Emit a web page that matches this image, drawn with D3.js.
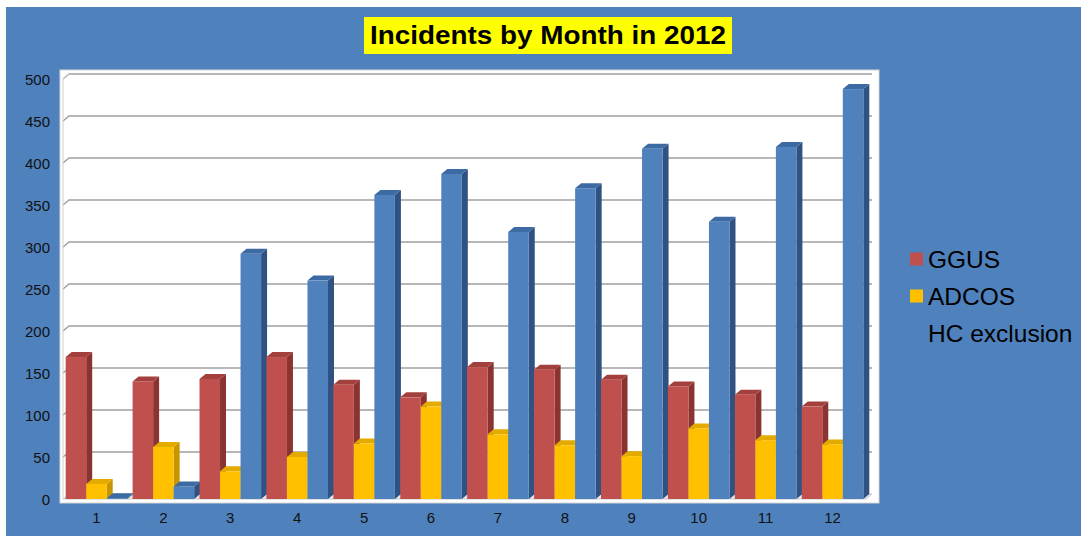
<!DOCTYPE html>
<html lang="en">
<head>
<meta charset="UTF-8">
<title>Incidents by Month in 2012</title>
<script src="https://d3js.org/d3.v7.min.js"></script>
<style>
    body { margin: 0; background: #fff; font-family: "Liberation Sans", Arial, sans-serif; }
    svg { display: block; }
</style>
</head>
<body>
<svg id="chart" width="1081" height="536"></svg>
<script>
    // data
    const months = ["1", "2", "3", "4", "5", "6", "7", "8", "9", "10", "11", "12"];
    const series = ["GGUS", "ADCOS", "HC exclusion"];
    const ggus = [169, 140, 143, 169, 136, 121, 157, 154, 142, 134, 124, 110];
    const adcos = [18, 62, 33, 50, 66, 110, 77, 64, 51, 84, 70, 65];
    const hcExclusion = [1, 15, 292, 260, 362, 387, 318, 370, 417, 330, 419, 488];
    const yTicks = [0, 50, 100, 150, 200, 250, 300, 350, 400, 450, 500];

    const values = { "GGUS": ggus, "ADCOS": adcos, "HC exclusion": hcExclusion };
    const colors = {
        "GGUS": { front: "#C0504D", side: "#8A3331", top: "#A3403D" },
        "ADCOS": { front: "#FFC000", side: "#C79500", top: "#E3AA00" },
        "HC exclusion": { front: "#4F81BD", side: "#2F5283", top: "#3C6AA3" }
    };

    const svg = d3.select('#chart');
    const dx = 6, dy = -5; // 3d depth offset

    // blue background
    svg.append('rect').attr('x', 6).attr('y', 7).attr('width', 1075).attr('height', 529)
        .attr('fill', '#4F81BD');

    // title
    svg.append('rect').attr('x', 364).attr('y', 17).attr('width', 368).attr('height', 37)
        .attr('fill', '#FFFF00');
    svg.append('text').attr('x', 548).attr('y', 44).attr('text-anchor', 'middle')
        .attr('font-size', 26).attr('font-weight', 'bold').attr('fill', '#000')
        .attr('textLength', 356).attr('lengthAdjust', 'spacingAndGlyphs')
        .text('Incidents by Month in 2012');

    // plot area
    svg.append('rect').attr('x', 60).attr('y', 70).attr('width', 819).attr('height', 433)
        .attr('fill', '#fff').attr('stroke', '#d6d6d6').attr('stroke-width', 1);

    const x0 = d3.scaleBand().domain(months).range([63, 866])
        .paddingInner(0.08).paddingOuter(0.04);
    const x1 = d3.scaleBand().domain(series).range([0, x0.bandwidth()]);
    const y = d3.scaleLinear().domain([0, 500]).range([499, 79]);

    const left = 63, right = 866;

    // floor
    svg.append('path')
        .attr('d', `M${left},${y(0)}L${right},${y(0)}L${right + dx},${y(0) + dy}L${left + dx},${y(0) + dy}Z`)
        .attr('fill', '#e6e6e6').attr('stroke', '#c8c8c8').attr('stroke-width', 1);

    // back wall gridlines
    const grid = svg.append('g');
    yTicks.filter(t => t > 0).forEach(t => {
        grid.append('path')
            .attr('d', `M${left},${y(t)}L${left + dx},${y(t) + dy}L${right + dx},${y(t) + dy}`)
            .attr('fill', 'none').attr('stroke', '#a0a0a0').attr('stroke-width', 1.5);
    });
    // left wall edge
    svg.append('path')
        .attr('d', `M${left},${y(0)}L${left},${y(500)}L${left + dx},${y(500) + dy}`)
        .attr('fill', 'none').attr('stroke', '#d0d0d0').attr('stroke-width', 1);

    // y axis labels
    svg.append('g').selectAll('text').data(yTicks).enter().append('text')
        .attr('x', 50).attr('y', d => y(d) + 0.5).attr('dy', '0.35em')
        .attr('text-anchor', 'end').attr('font-size', 15).attr('fill', '#111')
        .text(d => d);

    // x axis labels
    svg.append('g').selectAll('text').data(months).enter().append('text')
        .attr('x', d => x0(d) + x0.bandwidth() / 2).attr('y', 518).attr('dy', '0.35em')
        .attr('text-anchor', 'middle').attr('font-size', 15).attr('fill', '#111')
        .text(d => d);

    // 3d bars
    const bars = svg.append('g');
    months.forEach((m, i) => {
        series.forEach(s => {
            const v = values[s][i];
            const xa = x0(m) + x1(s), xb = xa + x1.bandwidth();
            const yt = y(v), yb = y(0);
            const c = colors[s];
            const g = bars.append('g');
            g.append('path')
                .attr('d', `M${xb},${yb}L${xb},${yt}L${xb + dx},${yt + dy}L${xb + dx},${yb + dy}Z`)
                .attr('fill', c.side);
            g.append('path')
                .attr('d', `M${xa},${yt}L${xb},${yt}L${xb + dx},${yt + dy}L${xa + dx},${yt + dy}Z`)
                .attr('fill', c.top);
            g.append('rect').attr('x', xa).attr('y', yt).attr('width', x1.bandwidth())
                .attr('height', yb - yt).attr('fill', c.front);
        });
    });

    // legend
    const legend = svg.append('g');
    series.forEach((s, i) => {
        const ly = 259 + i * 37;
        legend.append('rect').attr('x', 910).attr('y', ly - 6.5).attr('width', 13).attr('height', 13)
            .attr('fill', colors[s].front);
        legend.append('text').attr('x', 928).attr('y', ly).attr('dy', '0.35em')
            .attr('font-size', 24.5).attr('fill', '#000').text(s);
    });
</script>
</body>
</html>
